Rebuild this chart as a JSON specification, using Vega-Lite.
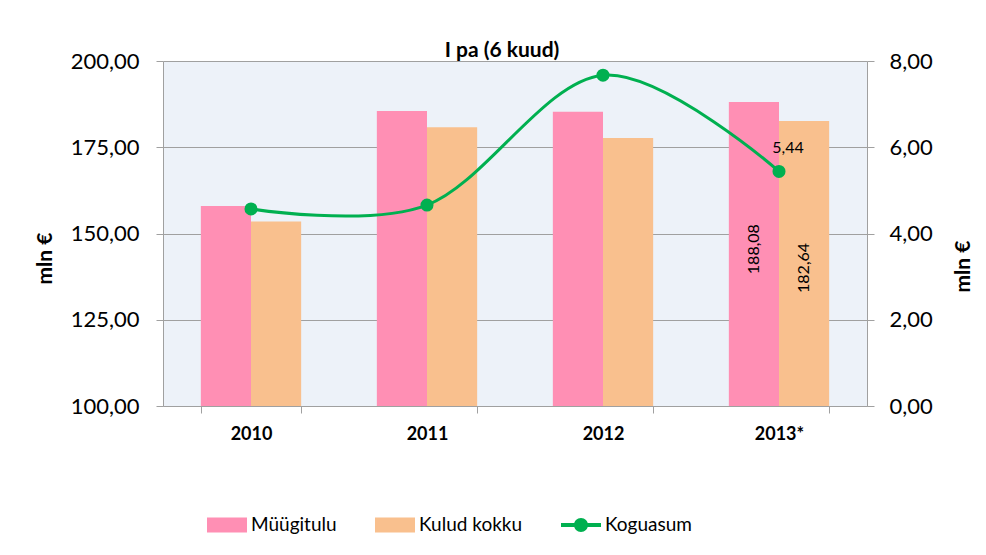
{
  "$schema": "https://vega.github.io/schema/vega-lite/v6.json",
  "width": 704,
  "height": 345,
  "autosize": {"type": "none"},
  "padding": {"left": 163, "top": 61, "right": 119, "bottom": 149},
  "background": "white",
  "title": {"text": "I pa (6 kuud)", "font": "Lato", "fontSize": 21, "fontWeight": "bold", "color": "black", "anchor": "middle", "dx": -13, "baseline": "alphabetic", "offset": -28},
  "config": {
    "view": {"fill": "#EDF2F9", "stroke": null},
    "font": "Lato",
    "locale": {"number": {"decimal": ",", "thousands": " ", "grouping": [3], "currency": ["", " €"]}}
  },
  "datasets": {
    "bars": [
      {"year": "2010", "series": "Müügitulu", "value": 158.0},
      {"year": "2010", "series": "Kulud kokku", "value": 153.5},
      {"year": "2011", "series": "Müügitulu", "value": 185.5},
      {"year": "2011", "series": "Kulud kokku", "value": 180.8},
      {"year": "2012", "series": "Müügitulu", "value": 185.3},
      {"year": "2012", "series": "Kulud kokku", "value": 177.7},
      {"year": "2013*", "series": "Müügitulu", "value": 188.08},
      {"year": "2013*", "series": "Kulud kokku", "value": 182.64}
    ],
    "line": [
      {"year": "2010", "value": 4.57},
      {"year": "2011", "value": 4.66},
      {"year": "2012", "value": 7.67},
      {"year": "2013*", "value": 5.44}
    ]
  },
  "encoding": {
    "x": {
      "field": "year", "type": "nominal", "sort": null,
      "scale": {"paddingInner": 0.43, "paddingOuter": 0.215},
      "axis": {"title": null, "labelAngle": 0, "labelFont": "Lato", "labelFontSize": 18, "labelFontWeight": "bold", "labelColor": "black", "labelPadding": 12, "tickBand": "extent", "tickSize": 7, "tickColor": "#A0A0A0", "domainColor": "#A0A0A0", "grid": false, "zindex": 1}
    }
  },
  "layer": [
    {
      "data": {"name": "bars"},
      "layer": [
        {
          "mark": {"type": "bar", "clip": true},
          "encoding": {
            "xOffset": {"field": "series", "type": "nominal", "sort": ["Müügitulu", "Kulud kokku"], "scale": {"paddingInner": 0, "paddingOuter": 0}},
            "y": {
              "field": "value", "type": "quantitative",
              "scale": {"domain": [100, 200], "zero": false, "nice": false},
              "axis": {"format": ".2f", "values": [100, 125, 150, 175, 200], "labelFont": "Lato", "labelFontSize": 22, "labelColor": "black", "labelPadding": 17, "tickSize": 7, "tickColor": "#A0A0A0", "domainColor": "#A0A0A0", "grid": true, "gridColor": "#A0A0A0", "title": "mln €", "titleFont": "Lato", "titleFontSize": 21, "titleFontWeight": "bold", "titleColor": "black", "titleBaseline": "middle", "titleX": -118, "titleY": 197}
            },
            "color": {
              "field": "series", "type": "nominal",
              "scale": {"domain": ["Müügitulu", "Kulud kokku", "Koguasum"], "range": ["#FF8FB4", "#F9C08E", "#00B050"]},
              "legend": {
                "title": null, "orient": "none", "legendX": 44, "legendY": 444, "direction": "horizontal",
                "labelFont": "Lato", "labelFontSize": 19, "labelColor": "black", "labelOffset": 4, "columnPadding": 38,
                "symbolSize": 1600, "labelLimit": 300,
                "encode": {
                  "symbols": {
                    "update": {
                      "shape": {"signal": "datum.value === 'Koguasum' ? 'M-1,-0.1L-0.3,-0.1L-0.3,0.1L-1,0.1Z M0.3,-0.1L1,-0.1L1,0.1L0.3,0.1Z M0.35,0A0.35,0.35,0,1,1,-0.35,0A0.35,0.35,0,1,1,0.35,0Z' : 'M-1,-0.375L1,-0.375L1,0.375L-1,0.375Z'"},
                      "fill": {"signal": "scale('color', datum.value)"},
                      "stroke": {"value": "transparent"},
                      "strokeWidth": {"value": 0},
                      "opacity": {"value": 1},
                      "fillOpacity": {"value": 1}
                    }
                  }
                }
              }
            }
          }
        },
        {
          "transform": [{"filter": "datum.year === '2013*'"}],
          "mark": {"type": "text", "angle": 270, "align": "right", "baseline": "middle", "dx": -122, "font": "Lato", "fontSize": 16, "color": "black"},
          "encoding": {
            "xOffset": {"field": "series", "type": "nominal", "sort": ["Müügitulu", "Kulud kokku"]},
            "y": {"field": "value", "type": "quantitative"},
            "text": {"field": "value", "type": "quantitative", "format": ".2f"}
          }
        }
      ]
    },
    {
      "data": {"name": "line"},
      "layer": [
        {
          "mark": {"type": "line", "interpolate": "cardinal", "color": "#00B050", "strokeWidth": 3, "point": {"filled": true, "size": 170, "color": "#00B050", "opacity": 1}},
          "encoding": {
            "y": {
              "field": "value", "type": "quantitative",
              "scale": {"domain": [0, 8], "nice": false},
              "axis": {"orient": "right", "format": ".2f", "values": [0, 2, 4, 6, 8], "labelFont": "Lato", "labelFontSize": 22, "labelColor": "black", "labelPadding": 15, "tickSize": 7, "tickColor": "#A0A0A0", "domainColor": "#A0A0A0", "grid": false, "title": "mln €", "titleFont": "Lato", "titleFontSize": 21, "titleFontWeight": "bold", "titleColor": "black", "titleAngle": 270, "titleBaseline": "middle", "titleX": 96, "titleY": 205}
            }
          }
        },
        {
          "transform": [{"filter": "datum.year === '2013*'"}],
          "mark": {"type": "text", "align": "center", "baseline": "middle", "dx": 9, "dy": -23, "font": "Lato", "fontSize": 16, "color": "black"},
          "encoding": {
            "y": {"field": "value", "type": "quantitative"},
            "text": {"field": "value", "type": "quantitative", "format": ".2f"}
          }
        }
      ]
    }
  ],
  "resolve": {"scale": {"y": "independent"}}
}
